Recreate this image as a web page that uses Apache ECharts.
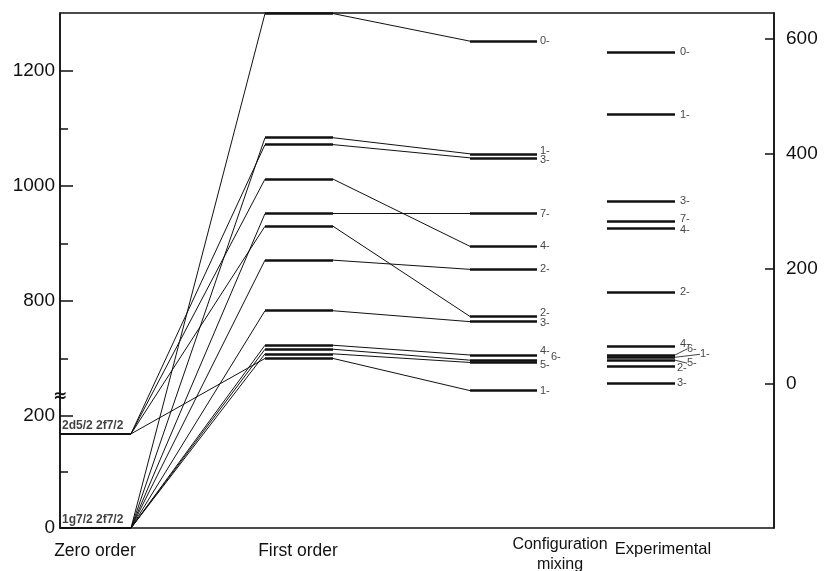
<!DOCTYPE html>
<html><head><meta charset="utf-8">
<script src="https://cdn.jsdelivr.net/npm/echarts@6/dist/echarts.min.js"></script>
<style>html,body{margin:0;padding:0;background:#fff}#c{width:824px;height:571px}</style>
</head><body><div id="c"></div>
<script>
// ---------------- data ----------------
const columnNames = ['Zero order', 'First order', 'Configuration\nmixing', 'Experimental'];
const zeroOrderLabels = ['1g7/2 2f7/2', '2d5/2 2f7/2'];
const zeroOrderEnergies = [0, 168];                       // keV, left scale (lower part)
const firstOrderEnergies = [1300, 1084, 1072, 1012, 952, 930, 871, 783, 723, 716, 708, 700];
const firstOrderParent = [0, 0, 1, 1, 0, 1, 0, 0, 0, 0, 0, 1]; // index of zero-order configuration
const mixingEnergies = [1252, 1056, 1049, 895, 952, 773, 855, 764, 706, 697, 693, 644];
const mixingSpins = ['0', '1', '3', '4', '7', '2', '2', '3', '4', '6', '5', '1'];
const experimentalEnergies = [577, 468, 318, 283, 270, 160, 65, 50, 46, 41, 31, 0]; // keV, right scale
const experimentalSpins = ['0', '1', '3', '7', '4', '2', '4', '6', '1', '5', '2', '3'];
const leftMajorTicks = [0, 200, 800, 1000, 1200];
const leftMinorTicks = [100, 700, 900, 1100];
const rightTicks = [0, 200, 400, 600];

// ---------------- layout / style ----------------
const X_MAX = 714;
const COLS = [[0, 71], [205, 273], [410, 477], [547, 615]];
const COL_LABEL_X = [35, 238, 500, 603];
const COL_LABEL_STYLE = [{ fontSize: 17.5, lineHeight: 32 }, { fontSize: 17.5, lineHeight: 32 },
                         { fontSize: 16, lineHeight: 20 }, { fontSize: 16.5, lineHeight: 28 }];
const LOW_BASE = 405, LOW_SCALE = 0.975, BREAK_VALUE = 600, TOP = 1301;
const RIGHT_SHIFT = 656;     // right-axis zero on the left scale
const BREAK_MARK = 633;
const mixingNudge = [[0,0],[0,-3],[0,2],[0,0],[0,0],[0,-4],[0,0],[0,1],[0,-4],[11,-3],[0,3],[0,0]];
const expNudge = [[0,0],[0,0],[0,0],[0,-2],[0,1],[0,0],[0,-2],[7,-6],[20,-3],[7,3],[-3,2],[-3,-1]];
const expLeader = [false,false,false,false,false,false,false,true,true,true,false,false];
const INK = '#111';
const FONT = 'Liberation Sans';

function toAxis(e) { return e < 500 ? LOW_BASE + e * LOW_SCALE : e; }
function fromAxis(d) { return d <= BREAK_VALUE + 1 ? Math.round((d - LOW_BASE) / LOW_SCALE) : Math.round(d); }

const seg = (x1, y1, x2, y2) => ({ coords: [[x1, y1], [x2, y2]] });
function linesSeries(data, width, yAxisIndex) {
  return { type: 'lines', coordinateSystem: 'cartesian2d', xAxisIndex: 0, yAxisIndex: yAxisIndex || 0,
    silent: true, polyline: false, data: data,
    lineStyle: { color: INK, width: width, opacity: 1, curveness: 0 }, z: 3 };
}

const zeroLevels = zeroOrderEnergies.map(e => seg(COLS[0][0], toAxis(e), COLS[0][1], toAxis(e)));
const zeroToFirst = firstOrderEnergies.map((e, i) =>
  seg(COLS[0][1], toAxis(zeroOrderEnergies[firstOrderParent[i]]), COLS[1][0], toAxis(e)));
const firstLevels = firstOrderEnergies.map(e => seg(COLS[1][0], e, COLS[1][1], e));
const firstToMix = firstOrderEnergies.map((e, i) => seg(COLS[1][1], e, COLS[2][0], mixingEnergies[i]));
const mixLevels = mixingEnergies.map(e => seg(COLS[2][0], e, COLS[2][1], e));
const expLevels = experimentalEnergies.map(e => seg(COLS[3][0], e, COLS[3][1], e));

const rich = {};
COL_LABEL_STYLE.forEach((s, i) => { rich['c' + i] = Object.assign({ color: INK, fontFamily: FONT, align: 'center' }, s); });
function colLabel(v) {
  const i = COL_LABEL_X.indexOf(v);
  if (i < 0) return '';
  return columnNames[i].split('\n').map(t => '{c' + i + '|' + t + '}').join('\n');
}

const chart = echarts.init(document.getElementById('c'), null, { renderer: 'canvas' });
const tickLabelStyle = { color: INK, fontFamily: FONT, fontSize: 19 };

chart.setOption({
  backgroundColor: '#fff',
  animation: false,
  grid: { left: 60, right: 50, top: 13, bottom: 43, outerBoundsMode: 'none', containLabel: false,
    show: true, borderColor: INK, borderWidth: 1.5, backgroundColor: '#fff' },
  xAxis: {
    type: 'value', min: 0, max: X_MAX,
    axisLine: { show: false }, axisTick: { show: false }, splitLine: { show: false },
    axisLabel: { customValues: COL_LABEL_X, formatter: colLabel, margin: 7, verticalAlign: 'top',
      color: INK, fontFamily: FONT, fontSize: 17, rich: rich }
  },
  yAxis: [
    { type: 'value', min: LOW_BASE, max: TOP, position: 'left',
      axisLine: { show: true, lineStyle: { color: INK, width: 1.5 } },
      axisTick: { show: true, inside: true, length: 13, lineStyle: { color: INK, width: 1.5 }, customValues: leftMajorTicks.map(toAxis) },
      axisLabel: Object.assign({ customValues: leftMajorTicks.map(toAxis), formatter: v => String(fromAxis(v)), margin: 5 }, tickLabelStyle),
      splitLine: { show: false } },
    { type: 'value', min: LOW_BASE - RIGHT_SHIFT, max: TOP - RIGHT_SHIFT, position: 'right',
      axisLine: { show: true, lineStyle: { color: INK, width: 1.5 } },
      axisTick: { show: true, inside: true, length: 9, lineStyle: { color: INK, width: 1.5 }, customValues: rightTicks },
      axisLabel: Object.assign({ customValues: rightTicks, margin: 12 }, tickLabelStyle),
      splitLine: { show: false } },
    { type: 'value', min: LOW_BASE, max: TOP, position: 'left',
      axisLine: { show: false },
      axisTick: { show: true, inside: true, length: 8, lineStyle: { color: INK, width: 1.5 }, customValues: leftMinorTicks.map(toAxis) },
      axisLabel: { show: false, customValues: leftMinorTicks.map(toAxis) },
      splitLine: { show: false } }
  ],
  series: [
    linesSeries(zeroLevels, 1.8),
    linesSeries(zeroToFirst, 1),
    linesSeries(firstLevels, 2.6),
    linesSeries(firstToMix, 1),
    linesSeries(mixLevels, 2.6),
    linesSeries(expLevels, 2.6, 1),
    { type: 'scatter', symbolSize: 0, silent: true, xAxisIndex: 0, yAxisIndex: 0, z: 4,
      data: zeroOrderEnergies.map(e => [COLS[0][0], toAxis(e)]),
      label: { show: true, position: 'right', distance: 2, offset: [0, -8], color: INK, fontFamily: FONT, fontSize: 12, fontWeight: 'bold',
        formatter: p => zeroOrderLabels[p.dataIndex] } },
    { type: 'scatter', symbolSize: 0, silent: true, xAxisIndex: 0, yAxisIndex: 0, z: 4,
      data: mixingEnergies.map(e => [COLS[2][1], e]),
      label: { show: true, position: 'right', distance: 3, color: INK, fontFamily: FONT, fontSize: 11,
        formatter: p => mixingSpins[p.dataIndex] + '-' },
      labelLayout: p => ({ dx: mixingNudge[p.dataIndex][0], dy: mixingNudge[p.dataIndex][1] }) },
    { type: 'scatter', symbolSize: 0, silent: true, xAxisIndex: 0, yAxisIndex: 1, z: 4,
      data: experimentalEnergies.map((e, i) => ({ value: [COLS[3][1], e], labelLine: { show: expLeader[i] } })),
      label: { show: true, position: 'right', distance: 5, color: INK, fontFamily: FONT, fontSize: 11,
        formatter: p => experimentalSpins[p.dataIndex] + '-' },
      labelLine: { show: false, lineStyle: { color: INK, width: 0.8 } },
      labelLayout: p => ({ dx: expNudge[p.dataIndex][0], dy: expNudge[p.dataIndex][1] }) }
  ]
});

const bp = chart.convertToPixel({ xAxisIndex: 0, yAxisIndex: 0 }, [0, BREAK_MARK]);
chart.setOption({ graphic: [{ type: 'text', x: bp[0], y: bp[1], z: 10,
  style: { text: '≈', fill: INK, font: 'bold 17px "DejaVu Sans"', align: 'center', verticalAlign: 'middle' } }] });
</script></body></html>
